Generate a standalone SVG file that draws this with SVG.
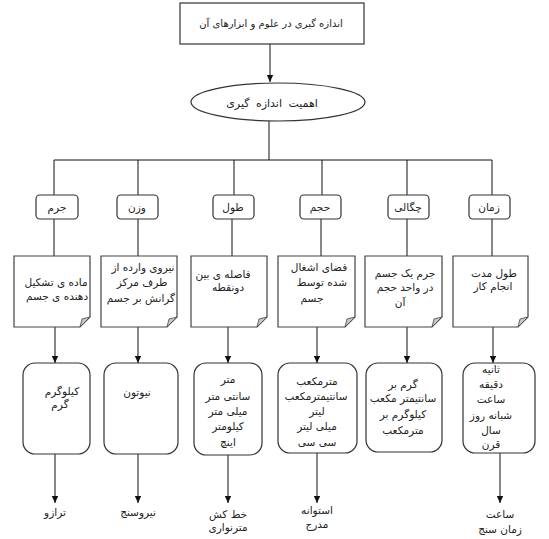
<svg xmlns="http://www.w3.org/2000/svg" width="549" height="539" viewBox="0 0 549 539">
<style>
text{font-family:"DejaVu Sans",sans-serif;font-size:10.5px;fill:#222;text-anchor:middle;direction:rtl}
.c{fill:none;stroke:#111;stroke-width:1}
.b{fill:#fff;stroke:#333;stroke-width:1.2}
.d{fill:#fff;stroke:#444;stroke-width:1.2}
.f{fill:#c8c8c8;stroke:#444;stroke-width:0.8}
</style>
<defs>
<marker id="ah" markerUnits="userSpaceOnUse" markerWidth="8" markerHeight="8" refX="7" refY="4" orient="auto">
<path d="M0,0.8 L7,4 L0,7.2 Z" fill="#111"/>
</marker>
</defs>
<rect width="549" height="539" fill="#fff"/>
<g id="connectors">
<path class="c" d="M270 44 V82" marker-end="url(#ah)"/>
<path class="c" d="M269 121 V160 M54 160 H492"/>
<path class="c" d="M54 160 V195 M138 160 V195 M234 160 V195 M322 160 V195 M407 160 V195 M492 160 V195"/>
<path class="c" d="M54 219 V256 M138 219 V256 M232 219 V256 M321 219 V256 M407 219 V256 M492 219 V256"/>
<path class="c" d="M55 327 V363" marker-end="url(#ah)"/>
<path class="c" d="M138 327 V363" marker-end="url(#ah)"/>
<path class="c" d="M228 327 V363" marker-end="url(#ah)"/>
<path class="c" d="M317 327 V363" marker-end="url(#ah)"/>
<path class="c" d="M407 327 V363" marker-end="url(#ah)"/>
<path class="c" d="M493 327 V363" marker-end="url(#ah)"/>
<path class="c" d="M55 454 V503" marker-end="url(#ah)"/>
<path class="c" d="M138 454 V503" marker-end="url(#ah)"/>
<path class="c" d="M228 455 V503" marker-end="url(#ah)"/>
<path class="c" d="M317 453 V503" marker-end="url(#ah)"/>
<path class="c" d="M500 453 V503" marker-end="url(#ah)"/>
</g>
<g id="title"><rect class="b" x="180" y="3" width="184" height="41"/><text x="271" y="27" style="font-size:10px">اندازه گیری در علوم و ابزارهای آن</text></g>
<g id="importance"><ellipse class="b" cx="278" cy="102" rx="87" ry="19"/><text x="272" y="107" style="font-size:11px;word-spacing:3px">اهمیت اندازه گیری</text></g>
<g id="n-mass"><rect class="b" x="36" y="195" width="42" height="24" rx="4"/><text x="57" y="211">جرم</text></g>
<g id="n-weight"><rect class="b" x="117" y="195" width="41" height="24" rx="4"/><text x="137" y="211">وزن</text></g>
<g id="n-length"><rect class="b" x="213" y="195" width="41" height="24" rx="4"/><text x="233" y="211">طول</text></g>
<g id="n-volume"><rect class="b" x="300" y="195" width="41" height="24" rx="4"/><text x="320" y="211">حجم</text></g>
<g id="n-density"><rect class="b" x="388" y="195" width="41" height="24" rx="4"/><text x="408" y="211">چگالی</text></g>
<g id="n-time"><rect class="b" x="469" y="195" width="41" height="24" rx="4"/><text x="489" y="211">زمان</text></g>
<g id="d-mass"><path class="d" d="M14 256 H90 V317 L80 327 H14 Z"/><path class="f" d="M90 317 L80 327 L82 319 Z"/><text x="56" y="286">ماده ی تشکیل</text><text x="57" y="300">دهنده ی جسم</text></g>
<g id="d-weight"><path class="d" d="M101 256 H177 V317 L167 327 H101 Z"/><path class="f" d="M177 317 L167 327 L169 319 Z"/><text x="143" y="271">نیروی وارده از</text><text x="142" y="286">طرف مرکز</text><text x="141" y="302">گرانش بر جسم</text></g>
<g id="d-length"><path class="d" d="M191 256 H267 V317 L257 327 H191 Z"/><path class="f" d="M267 317 L257 327 L259 319 Z"/><text x="223" y="278">فاصله ی بین</text><text x="228" y="291">دونقطه</text></g>
<g id="d-volume"><path class="d" d="M278 256 H355 V317 L345 327 H278 Z"/><path class="f" d="M355 317 L345 327 L347 319 Z"/><text x="319" y="271">فضای اشغال</text><text x="322" y="286">شده توسط</text><text x="312" y="302">جسم</text></g>
<g id="d-density"><path class="d" d="M365 256 H442 V317 L432 327 H365 Z"/><path class="f" d="M442 317 L432 327 L434 319 Z"/><text x="405" y="277">جرم یک جسم</text><text x="405" y="291">در واحد حجم</text><text x="400" y="306">آن</text></g>
<g id="d-time"><path class="d" d="M453 256 H528 V317 L518 327 H453 Z"/><path class="f" d="M528 317 L518 327 L520 319 Z"/><text x="494" y="277">طول مدت</text><text x="493" y="290">انجام کار</text></g>
<g id="u-mass"><rect class="b" x="23" y="363" width="67" height="91" rx="12"/><text x="62" y="395">کیلوگرم</text><text x="60" y="408">گرم</text></g>
<g id="u-weight"><rect class="b" x="104" y="363" width="74" height="91" rx="12"/><text x="137" y="396">نیوتون</text></g>
<g id="u-length"><rect class="b" x="194" y="363" width="68" height="92" rx="12"/><text x="228" y="383">متر</text><text x="228" y="400">سانتی متر</text><text x="228" y="415">میلی متر</text><text x="228" y="430">کیلومتر</text><text x="228" y="446">اینچ</text></g>
<g id="u-volume"><rect class="b" x="278" y="363" width="79" height="90" rx="12"/><text x="317" y="385">مترمکعب</text><text x="316" y="400">سانتیمترمکعب</text><text x="317" y="415">لیتر</text><text x="317" y="430">میلی لیتر</text><text x="317" y="446">سی سی</text></g>
<g id="u-density"><rect class="b" x="366" y="363" width="76" height="89" rx="12"/><text x="403" y="388">گرم بر</text><text x="403" y="402">سانتیمتر مکعب</text><text x="403" y="418">کیلوگرم بر</text><text x="403" y="434">مترمکعب</text></g>
<g id="u-time"><rect class="b" x="463" y="363" width="72" height="90" rx="12"/><text x="491" y="373">ثانیه</text><text x="491" y="388">دقیقه</text><text x="491" y="403">ساعت</text><text x="491" y="419">شبانه روز</text><text x="491" y="434">سال</text><text x="491" y="448">قرن</text></g>
<g id="i-mass"><text x="55" y="516">ترازو</text></g>
<g id="i-weight"><text x="138" y="516">نیروسنج</text></g>
<g id="i-length"><text x="228" y="518">خط کش</text><text x="228" y="531">مترنواری</text></g>
<g id="i-volume"><text x="317" y="514">استوانه</text><text x="317" y="528">مدرج</text></g>
<g id="i-time"><text x="500" y="518">ساعت</text><text x="500" y="533">زمان سنج</text></g>
</svg>
